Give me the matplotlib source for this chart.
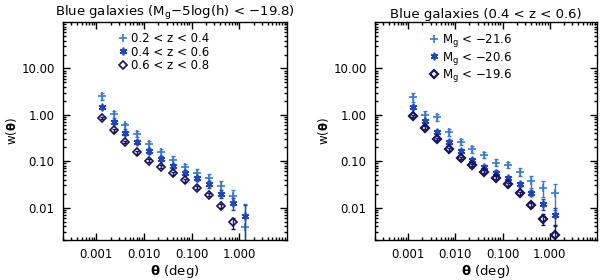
import numpy as np
import matplotlib
matplotlib.use('Agg')
import matplotlib.pyplot as plt
from matplotlib.ticker import FixedLocator, FixedFormatter, LogLocator, NullFormatter

plt.rcParams['font.family'] = ['DejaVu Sans']
plt.rcParams['mathtext.fontset'] = 'dejavusans'

# angular bins (deg)
theta = [0.0013, 0.0023, 0.0041, 0.0073, 0.013, 0.023, 0.041, 0.073, 0.13, 0.23, 0.41, 0.73, 1.3]

# left panel: redshift bins
z1_w = [2.5, 1.05, 0.59, 0.39, 0.23, 0.156, 0.108, 0.074, 0.055, 0.043, 0.029, 0.0178, 0.0039]
z1_e = [0.45, 0.18, 0.09, 0.06, 0.04, 0.028, 0.02, 0.015, 0.012, 0.01, 0.008, 0.006, 0.008]
z2_w = [1.45, 0.69, 0.41, 0.26, 0.164, 0.114, 0.077, 0.057, 0.043, 0.032, 0.020, 0.0124, 0.0066]
z2_e = [0.12, 0.07, 0.04, 0.025, 0.018, 0.013, 0.01, 0.007, 0.006, 0.005, 0.004, 0.0035, 0.0047]
z3_w = [0.85, 0.46, 0.26, 0.156, 0.102, 0.076, 0.055, 0.039, 0.027, 0.019, 0.0109, 0.0048]
z3_e = [0.05, 0.03, 0.018, 0.011, 0.007, 0.005, 0.004, 0.003, 0.002, 0.0015, 0.0013, 0.0013]
z_labels = ['0.2 < z < 0.4', '0.4 < z < 0.6', '0.6 < z < 0.8']

# right panel: magnitude cuts
m1_w = [2.43, 0.99, 0.90, 0.42, 0.26, 0.18, 0.136, 0.093, 0.084, 0.059, 0.038, 0.027, 0.021]
m1_e = [0.55, 0.22, 0.15, 0.07, 0.04, 0.03, 0.02, 0.016, 0.012, 0.011, 0.011, 0.01, 0.012]
m2_w = [1.45, 0.72, 0.42, 0.26, 0.166, 0.105, 0.075, 0.057, 0.043, 0.032, 0.021, 0.012, 0.007]
m2_e = [0.12, 0.07, 0.04, 0.025, 0.018, 0.012, 0.008, 0.006, 0.005, 0.004, 0.0035, 0.003, 0.003]
m3_w = [0.93, 0.53, 0.30, 0.18, 0.118, 0.084, 0.059, 0.044, 0.032, 0.0203, 0.0114, 0.0057, 0.0025]
m3_e = [0.05, 0.035, 0.018, 0.011, 0.007, 0.005, 0.004, 0.003, 0.0025, 0.0018, 0.0013, 0.0014, 0.0018]
m_labels = [r'M$_{\rm g}$ < $-$21.6', r'M$_{\rm g}$ < $-$20.6', r'M$_{\rm g}$ < $-$19.6']

titles = [r'Blue galaxies (M$_{\rm g}$$-$5log(h) < $-$19.8)', 'Blue galaxies (0.4 < z < 0.6)']

xticks = [0.001, 0.01, 0.1, 1.0]
xticklabels = ['0.001', '0.010', '0.100', '1.000']
yticks = [0.01, 0.1, 1.0, 10.0]
yticklabels = ['0.01', '0.10', '1.00', '10.00']

colors = ['#3a78d8', '#1f45b8', '#15125e']
markers = ['+', (6, 2, 0), 'D']

fig = plt.figure(figsize=(6, 2.8), dpi=100)
ax1 = fig.add_axes([0.105, 0.143, 0.373, 0.778])
ax2 = fig.add_axes([0.625, 0.143, 0.370, 0.778])

panels = [
    (ax1, [(z1_w, z1_e), (z2_w, z2_e), (z3_w, z3_e)], z_labels, 1.2),
    (ax2, [(m1_w, m1_e), (m2_w, m2_e), (m3_w, m3_e)], m_labels, 1.6),
]

for i, (ax, series, labels, dlw) in enumerate(panels):
    for j, (w, e) in enumerate(series):
        t = theta[:len(w)]
        ms = [5.5, 5.5, 4.5][j]
        mfc = 'none' if j != 1 else colors[j]
        mew = dlw if j == 2 else 1.2
        ax.errorbar(t, w, yerr=e, fmt='none', ecolor=colors[j], elinewidth=1.0,
                    capsize=1.6, capthick=1.0)
        ax.plot(t, w, linestyle='none', marker=markers[j], color=colors[j],
                markersize=ms, markeredgewidth=mew, markerfacecolor=mfc,
                label=labels[j])
    ax.set_xscale('log')
    ax.set_yscale('log')
    ax.set_xlim(2e-4, 10)
    ax.set_ylim(0.002, 100)
    ax.xaxis.set_major_locator(FixedLocator(xticks))
    ax.xaxis.set_major_formatter(FixedFormatter(xticklabels))
    ax.yaxis.set_major_locator(FixedLocator(yticks))
    ax.yaxis.set_major_formatter(FixedFormatter(yticklabels))
    ax.xaxis.set_minor_locator(LogLocator(base=10, subs=np.arange(2, 10)))
    ax.yaxis.set_minor_locator(LogLocator(base=10, subs=np.arange(2, 10)))
    ax.xaxis.set_minor_formatter(NullFormatter())
    ax.yaxis.set_minor_formatter(NullFormatter())
    ax.tick_params(which='both', direction='in', top=True, right=True,
                   labelsize=8.5, width=1.0, colors='black')
    ax.tick_params(which='major', length=5, pad=6)
    ax.tick_params(which='minor', length=2.5)
    for s in ax.spines.values():
        s.set_linewidth(1.0)
    ax.set_title(titles[i], fontsize=9.5, pad=3)
    ax.set_xlabel(r'$\mathbf{\theta}$ (deg)', fontsize=9.5, labelpad=1)
    ax.set_ylabel(r'w($\mathbf{\theta}$)', fontsize=8.5, labelpad=2)
    ax.legend(loc='upper left', bbox_to_anchor=(0.245, 0.955), frameon=False,
              fontsize=8.5, handlelength=0.8, handletextpad=0.3,
              labelspacing=0.05, borderpad=0.0, borderaxespad=0)

fig.savefig('out.png', dpi=100)
